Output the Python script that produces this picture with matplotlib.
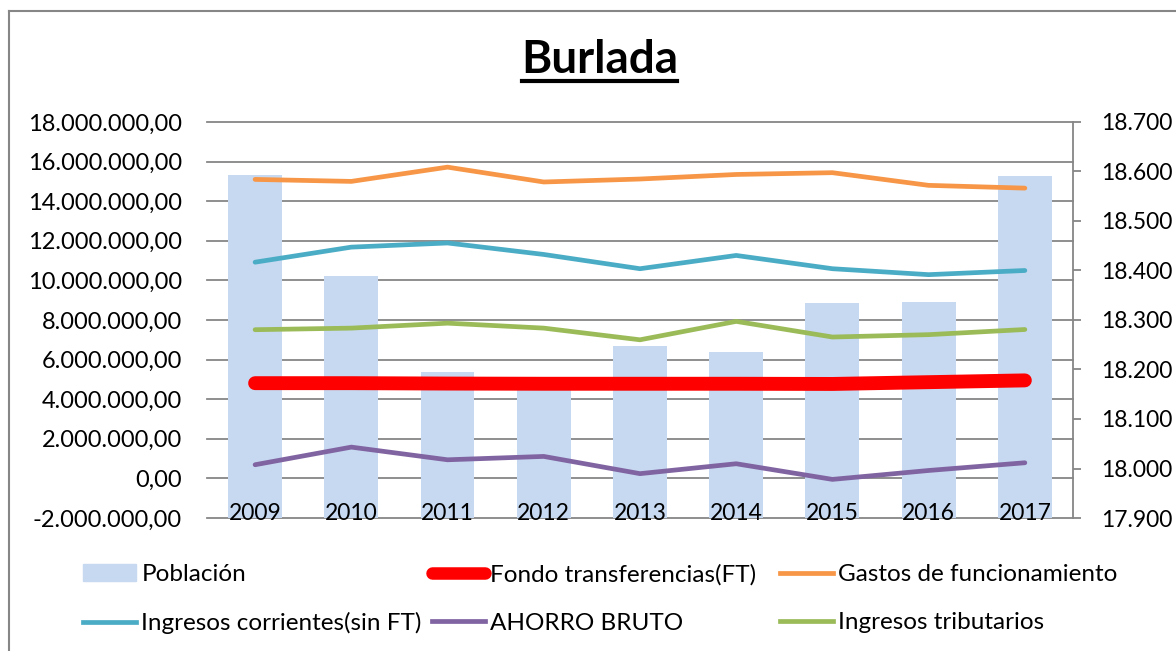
import matplotlib.pyplot as plt
import matplotlib.transforms as mtransforms
from matplotlib.lines import Line2D
from matplotlib.patches import Patch
from matplotlib.ticker import FuncFormatter, MultipleLocator

plt.rcParams['font.family'] = ['Lato', 'DejaVu Sans']

years = ['2009', '2010', '2011', '2012', '2013', '2014', '2015', '2016', '2017']
poblacion = [18593, 18388, 18194, 18165, 18247, 18236, 18335, 18337, 18590]
fondo_ft = [4810000, 4810000, 4790000, 4780000, 4780000, 4780000, 4770000, 4860000, 4950000]
gastos_func = [15100000, 15000000, 15720000, 14970000, 15120000, 15350000, 15440000, 14800000, 14660000]
ingresos_corr = [10920000, 11680000, 11890000, 11310000, 10590000, 11260000, 10590000, 10290000, 10500000]
ahorro_bruto = [690000, 1580000, 940000, 1110000, 240000, 740000, -50000, 400000, 790000]
ingresos_trib = [7510000, 7590000, 7840000, 7590000, 7000000, 7930000, 7140000, 7260000, 7520000]

x = list(range(len(years)))

fig = plt.figure(figsize=(11.76, 6.51), dpi=100)
ax = fig.add_axes([0.176, 0.2043, 0.7364, 0.6083])
ax2 = ax.twinx()
ax.set_zorder(2)
ax.patch.set_visible(False)
ax2.set_zorder(1)

# bars on the right-hand scale
ax2.bar(x, poblacion, width=0.56, color='#C6D9F1', zorder=2)
ax2.set_ylim(17900, 18700)
ax2.yaxis.set_major_locator(MultipleLocator(100))
ax2.yaxis.set_major_formatter(FuncFormatter(lambda v, p: f"{v:,.0f}".replace(',', '.')))
ax2.tick_params(axis='y', length=6, width=1.3, color='#868686', labelsize=16.5, pad=14)

# lines on the left-hand scale
ax.plot(x, fondo_ft, color='#FF0000', lw=10, solid_capstyle='round', zorder=3)
ax.plot(x, gastos_func, color='#F79646', lw=3.4, solid_capstyle='round')
ax.plot(x, ingresos_corr, color='#4BACC6', lw=3.4, solid_capstyle='round')
ax.plot(x, ahorro_bruto, color='#8064A2', lw=3.4, solid_capstyle='round')
ax.plot(x, ingresos_trib, color='#9BBB59', lw=3.4, solid_capstyle='round')
ax.set_ylim(-2000000, 18000000)
ax.set_xlim(-0.5, len(years) - 0.5)
ax.yaxis.set_major_locator(MultipleLocator(2000000))
ax.yaxis.set_major_formatter(FuncFormatter(
    lambda v, p: f"{v:,.2f}".replace(',', '#').replace('.', ',').replace('#', '.')))
ax.tick_params(axis='y', length=0, labelsize=17, pad=18)
ax.set_xticks(x)
ax.set_xticklabels(years)
ax.tick_params(axis='x', length=0, labelsize=16.5, pad=-11)

# gridlines of the left scale, behind the bars
blend = mtransforms.blended_transform_factory(ax2.transAxes, ax.transData)
for v in ax.get_yticks():
    if -2000000 <= v <= 18000000:
        ax2.plot([0, 1], [v, v], transform=blend, color='#868686', lw=1.3, zorder=1, clip_on=False)

for a in (ax, ax2):
    for s in ('top', 'left', 'bottom', 'right'):
        a.spines[s].set_visible(False)
ax2.spines['right'].set_visible(True)
ax2.spines['right'].set_color('#868686')
ax2.spines['right'].set_linewidth(1.3)

# title with underline
fig.text(0.510, 0.908, 'Burlada', ha='center', va='center', fontsize=33, fontweight='bold')
fig.add_artist(Line2D([0.444, 0.576], [0.876, 0.876], color='black', lw=3))

# legend, three columns of two entries
columns = [
    ([Patch(color='#C6D9F1'), Line2D([], [], color='#4BACC6', lw=3.4)],
     ['Población', 'Ingresos corrientes(sin FT)'], 83),
    ([Line2D([], [], color='#FF0000', lw=9, solid_capstyle='round'), Line2D([], [], color='#8064A2', lw=3.4)],
     ['Fondo transferencias(FT)', 'AHORRO BRUTO'], 432),
    ([Line2D([], [], color='#F79646', lw=3.4), Line2D([], [], color='#9BBB59', lw=3.4)],
     ['Gastos de funcionamiento', 'Ingresos tributarios'], 780),
]
for hs, ls, px in columns:
    fig.legend(hs, ls, loc='upper left', bbox_to_anchor=(px / 1176, 0.133),
               frameon=False, fontsize=17.5, handlelength=2.2, handletextpad=0.2,
               labelspacing=1.1, borderpad=0, borderaxespad=0)

# chart border (top and left visible)
fig.add_artist(Line2D([0.0077, 0.0077], [0.0, 0.983], color='#868686', lw=1.5))
fig.add_artist(Line2D([0.0077, 1.0], [0.983, 0.983], color='#868686', lw=1.5))

fig.savefig('out.png', dpi=100)
